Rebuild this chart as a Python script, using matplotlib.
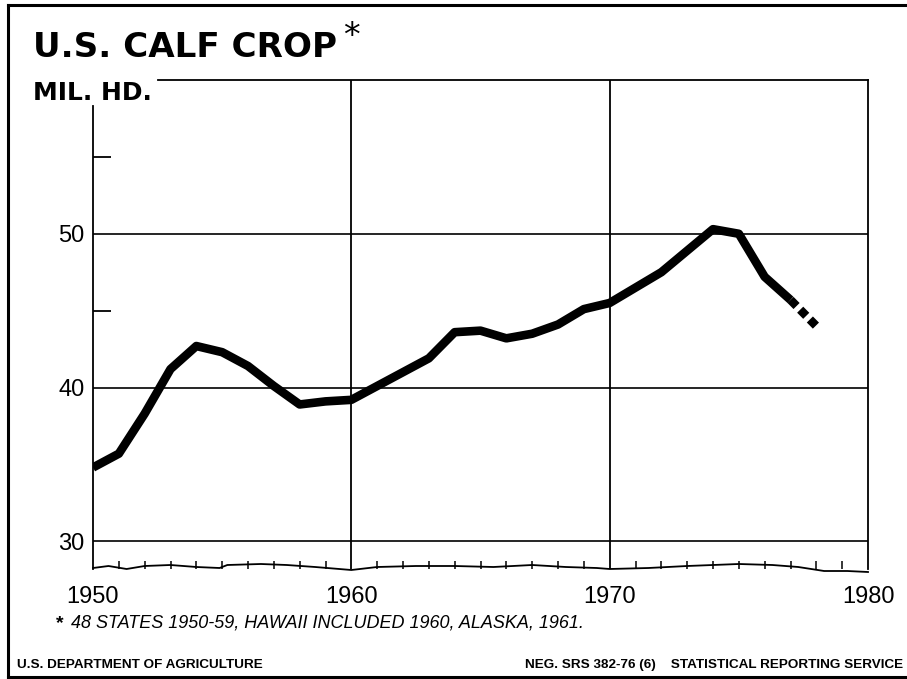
import matplotlib
matplotlib.use("Agg")
import matplotlib.pyplot as plt
from matplotlib.lines import Line2D
from matplotlib.ticker import MultipleLocator, FixedLocator

# ---- data (million head) ----
years = list(range(1950, 1978))
calf_crop = [34.8, 35.7, 38.3, 41.2, 42.7, 42.3, 41.4, 40.1, 38.9, 39.1,
             39.2, 40.1, 41.0, 41.9, 43.6, 43.7, 43.2, 43.5, 44.1, 45.1,
             45.5, 46.5, 47.5, 48.9, 50.3, 50.0, 47.2, 45.7]
proj_years = [1977, 1978]
proj_crop = [45.7, 44.0]

x_ticks = [1950, 1960, 1970, 1980]
x_labels = ["1950", "1960", "1970", "1980"]
y_ticks = [30, 40, 50]
y_labels = ["30", "40", "50"]
y_minor = [45, 55]

# decorative axis-break line along the bottom (x in years, offset in pixels above axis bottom)
break_x = [1950, 1950.6, 1951.3, 1952, 1953, 1954, 1954.9, 1955.2, 1956.5, 1957.5,
           1958.6, 1960, 1961, 1962.5, 1964, 1965.5, 1967, 1968.3, 1969.5, 1970,
           1971.5, 1973, 1975, 1976.3, 1977.3, 1978.3, 1979.2, 1980]
break_off = [1, 3, 0, 3, 4, 2, 1, 4, 5, 4, 2, -1, 2, 3, 3, 2, 4, 2, 1, 0,
             1, 3, 5, 4, 2, -2, -2, -3]

W, H = 907, 679
fig = plt.figure(figsize=(W / 100, H / 100), dpi=100)
fig.patch.set_facecolor("white")

left, right, top, bottom = 93, 868, 80, 569
ax = fig.add_axes([left / W, 1 - bottom / H, (right - left) / W, (bottom - top) / H])
ax.set_xlim(1950, 1980)
ax.set_ylim(28.2, 60)

ax.plot(years, calf_crop, color="black", lw=6.2, solid_joinstyle="round",
        solid_capstyle="butt", zorder=5)
ax.plot(proj_years, proj_crop, color="black", lw=6.2, linestyle=(0, (1.0, 0.6)),
        dash_capstyle="butt", zorder=5)

# grid
for yv in y_ticks:
    ax.axhline(yv, color="black", lw=1.2, zorder=2)
for xv in x_ticks[1:-1]:
    ax.axvline(xv, color="black", lw=1.3, zorder=2)

# spines
for s in ["left", "right", "top"]:
    ax.spines[s].set_linewidth(1.3)
ax.spines["bottom"].set_visible(False)
ax.spines["left"].set_bounds(28.2, 58.3)
ax.spines["top"].set_bounds(1952.5, 1980)

# ticks
ax.xaxis.set_major_locator(FixedLocator(x_ticks))
ax.set_xticklabels(x_labels)
ax.xaxis.set_minor_locator(MultipleLocator(1))
ax.tick_params(axis="x", which="major", length=0, pad=12, labelsize=17)
ax.tick_params(axis="x", which="minor", direction="in", length=5.5, width=1.1)
ax.yaxis.set_major_locator(FixedLocator(y_ticks))
ax.set_yticklabels(y_labels)
ax.yaxis.set_minor_locator(FixedLocator(y_minor))
ax.tick_params(axis="y", which="major", length=0, pad=6, labelsize=17)
ax.tick_params(axis="y", which="minor", direction="in", length=13, width=1.3)
for lab in ax.get_xticklabels() + ax.get_yticklabels():
    lab.set_fontfamily("Liberation Sans")

# axis-break wavy line
ax.plot(break_x, [b / (bottom - top) for b in break_off],
        transform=ax.get_xaxis_transform(), color="black", lw=1.3, clip_on=False)

# texts
fig.text(33 / W, 1 - 57 / H, "U.S. CALF CROP", fontsize=24.6, fontweight="bold",
         family="DejaVu Sans", va="baseline", ha="left")
fig.text(343 / W, 1 - 20 / H, "*", fontsize=24, family="DejaVu Sans",
         va="top", ha="left")
fig.text(33 / W, 1 - 100 / H, "MIL. HD.", fontsize=18, fontweight="bold",
         family="DejaVu Sans", va="baseline", ha="left")

fig.text(56 / W, 1 - 628 / H, "*", fontsize=14, fontweight="bold",
         family="Liberation Sans", va="baseline", ha="left")
fig.text(71 / W, 1 - 628 / H, "48 STATES 1950-59, HAWAII INCLUDED 1960, ALASKA, 1961.",
         fontsize=13, style="italic", family="Liberation Sans", va="baseline", ha="left")

fig.text(17 / W, 1 - 668 / H, "U.S. DEPARTMENT OF AGRICULTURE", fontsize=9.7,
         fontweight="bold", family="Liberation Sans", va="baseline", ha="left")
fig.text(903 / W, 1 - 668 / H, "NEG. SRS 382-76 (6)    STATISTICAL REPORTING SERVICE",
         fontsize=9.7, fontweight="bold", family="Liberation Sans",
         va="baseline", ha="right")

# outer frame
fw = 2.2
fig.add_artist(Line2D([8 / W, 1], [1 - 5 / H, 1 - 5 / H], color="black", lw=fw))
fig.add_artist(Line2D([8 / W, 8 / W], [1 - 5 / H, 1 - 677 / H], color="black", lw=fw))
fig.add_artist(Line2D([8 / W, 1], [1 - 677 / H, 1 - 677 / H], color="black", lw=fw))

fig.savefig("out.png", dpi=100, facecolor="white")
